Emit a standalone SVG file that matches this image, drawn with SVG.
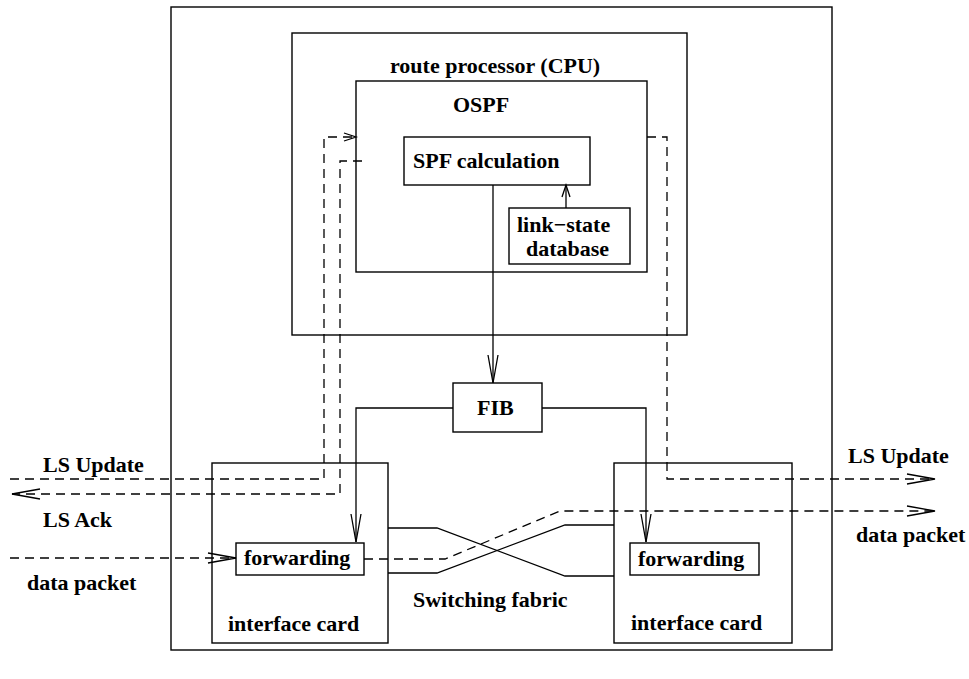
<svg xmlns="http://www.w3.org/2000/svg" width="969" height="679" viewBox="0 0 969 679">
<style>
.box{fill:none;stroke:#000;stroke-width:1.4}
.ln{fill:none;stroke:#000;stroke-width:1.3}
.dash{fill:none;stroke:#000;stroke-width:1.3;stroke-dasharray:9 6}
text{font-family:"Liberation Serif","Times New Roman",serif;font-weight:bold;font-size:22px;fill:#000}
.head{fill:none;stroke:#000;stroke-width:1.3;stroke-dasharray:none}
</style>
<defs>
<marker id="big" markerUnits="userSpaceOnUse" markerWidth="40" markerHeight="20" viewBox="-30 -10 40 20" refX="0" refY="0" orient="auto" overflow="visible">
<path class="head" d="M-28,-5 L0,0 L-28,5"/>
</marker>
<marker id="small" markerUnits="userSpaceOnUse" markerWidth="20" markerHeight="12" viewBox="-15 -6 20 12" refX="0" refY="0" orient="auto" overflow="visible">
<path class="head" d="M-12,-4 L0,0 L-12,4"/>
</marker>
</defs>
<rect id="router" class="box" x="171" y="7" width="661" height="643"/>
<g id="route-processor">
<rect class="box" x="292" y="33" width="395" height="302"/>
<text x="390" y="73">route processor (CPU)</text>
</g>
<g id="ospf">
<rect class="box" x="356" y="81" width="291" height="191"/>
<text x="453" y="112">OSPF</text>
</g>
<g id="spf">
<rect class="box" x="404" y="137" width="186" height="48"/>
<text x="413" y="168">SPF calculation</text>
</g>
<g id="lsdb">
<rect class="box" x="509" y="208" width="121" height="56"/>
<text x="517" y="232">link−state</text>
<text x="526" y="256">database</text>
</g>
<g id="fib">
<rect class="box" x="453" y="383" width="89" height="49"/>
<text x="477" y="415">FIB</text>
</g>
<g id="card-left">
<rect class="box" x="212" y="463" width="176" height="180"/>
<text x="228" y="631">interface card</text>
</g>
<g id="fwd-left">
<rect class="box" x="236" y="543" width="128" height="32"/>
<text x="244" y="565">forwarding</text>
</g>
<g id="card-right">
<rect class="box" x="614" y="463" width="178" height="180"/>
<text x="631" y="630">interface card</text>
</g>
<g id="fwd-right">
<rect class="box" x="630" y="543" width="129" height="32"/>
<text x="638" y="566">forwarding</text>
</g>
<g id="fabric">
<path class="ln" d="M388,528 H437 L565,576 H614"/>
<path class="ln" d="M388,573 H437 L565,525 H614"/>
<text x="413" y="607">Switching fabric</text>
</g>
<g id="connectors">
<path class="ln" d="M493,185 V383" marker-end="url(#big)"/>
<path class="ln" d="M566,208 V185" marker-end="url(#small)"/>
<path class="ln" d="M453,408 H356 V542" marker-end="url(#big)"/>
<path class="ln" d="M542,408 H646 V542" marker-end="url(#big)"/>
<path class="dash" d="M10,479 H324 V137 H356" marker-end="url(#small)"/>
<path class="dash" d="M362,161 H340 V494 H12" marker-end="url(#big)"/>
<path class="dash" d="M647,137 H667 V479 H935" marker-end="url(#big)"/>
<path class="dash" d="M10,558 H236" marker-end="url(#big)"/>
<path class="dash" d="M364,559 H445 L560,511 H935" marker-end="url(#big)"/>
</g>
<g id="labels">
<text x="43" y="472">LS Update</text>
<text x="43" y="527">LS Ack</text>
<text x="27" y="590">data packet</text>
<text x="848" y="463">LS Update</text>
<text x="856" y="542">data packet</text>
</g>
</svg>
